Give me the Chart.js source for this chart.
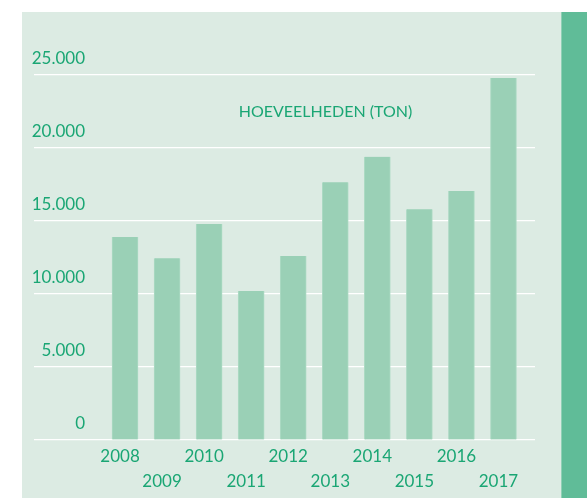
<!DOCTYPE html>
<html lang="nl">

<head>
    <meta charset="UTF-8">
    <title>Hoeveelheden (ton)</title>
    <style>
        html,
        body {
            margin: 0;
            width: 587px;
            height: 498px;
            background: #ffffff;
            overflow: hidden;
        }

        #panel {
            position: absolute;
            left: 22px;
            top: 12px;
            width: 539px;
            height: 486px;
            background: #dcebe3;
        }

        #strip {
            position: absolute;
            left: 561px;
            top: 12px;
            width: 26px;
            height: 486px;
            background: #60bc98;
            border-left: 1px solid #8fd0b5;
            box-sizing: border-box;
        }

        #canvas {
            position: absolute;
            left: 0;
            top: 0;
        }
    </style>
</head>

<body>
    <div id="panel"></div>
    <div id="strip"></div>
    <canvas id="canvas" width="587" height="498"></canvas>

    <script src="https://cdn.jsdelivr.net/npm/chart.js@4.4.0/dist/chart.umd.min.js"></script>

    <script>
        const years = [2008, 2009, 2010, 2011, 2012, 2013, 2014, 2015, 2016, 2017];
        const tons = [13900, 12450, 14800, 10200, 12600, 17650, 19400, 15800, 17050, 24800];
        const yTicks = [0, 5000, 10000, 15000, 20000, 25000];
        const chartTitle = 'HOEVEELHEDEN (TON)';

        const green = '#1aa674';
        const font = 'Lato, "Open Sans", sans-serif';

        // title sits inside the plot, between the two top gridlines
        const innerTitle = {
            id: 'innerTitle',
            afterDatasetsDraw(chart) {
                const { ctx, chartArea, scales } = chart;
                ctx.save();
                ctx.font = '16px ' + font;
                ctx.fillStyle = green;
                ctx.textAlign = 'center';
                ctx.textBaseline = 'middle';
                const y = scales.y.getPixelForValue((yTicks[yTicks.length - 1] + yTicks[yTicks.length - 2]) / 2);
                ctx.fillText(chartTitle, (chartArea.left + chartArea.right) / 2 + 6, y);
                ctx.restore();
            }
        };

        new Chart(document.querySelector('#canvas'), {
            type: 'bar',
            data: {
                datasets: [{
                    label: chartTitle,
                    data: years.map((yr, i) => ({ x: yr, y: tons[i] })),
                    backgroundColor: 'rgb(154, 208, 182)',
                    borderColor: 'rgb(172, 218, 196)',
                    borderWidth: { left: 1, right: 1, top: 0, bottom: 0 },
                    borderSkipped: false,
                    barThickness: 26
                }]
            },
            options: {
                responsive: false,
                animation: false,
                maintainAspectRatio: false,
                devicePixelRatio: 1,
                layout: {
                    padding: { left: 20, right: 52, top: 75, bottom: 0 }
                },
                plugins: {
                    legend: { display: false },
                    tooltip: { enabled: false }
                },
                scales: {
                    x: {
                        type: 'linear',
                        offset: false,
                        min: 2007.5,
                        max: 2017.75,
                        afterBuildTicks: (s) => { s.ticks = years.map(v => ({ value: v })); },
                        grid: { display: false, drawTicks: false },
                        border: { display: false },
                        ticks: {
                            autoSkip: false,
                            maxRotation: 0,
                            padding: 4,
                            labelOffset: -5,
                            color: green,
                            font: { family: font, size: 17, lineHeight: '25px' },
                            // staggered labels: odd years drop to a second row
                            callback: (v, i) => (i % 2 === 0 ? String(v) : ['', String(v)])
                        }
                    },
                    y: {
                        min: 0,
                        max: 25000,
                        afterBuildTicks: (s) => { s.ticks = yTicks.map(v => ({ value: v })); },
                        // ticks run under the labels, so the lines start left of the plot
                        afterFit: (s) => { s.width = 84; },
                        grid: { color: '#ffffff', lineWidth: 1.2, tickLength: 70, tickColor: '#ffffff' },
                        border: { display: false },
                        ticks: {
                            padding: -51,
                            labelOffset: -16,
                            color: green,
                            font: { family: font, size: 17 },
                            callback: (v) => v.toLocaleString('nl-NL')
                        }
                    }
                }
            },
            plugins: [innerTitle]
        });
    </script>
</body>

</html>
